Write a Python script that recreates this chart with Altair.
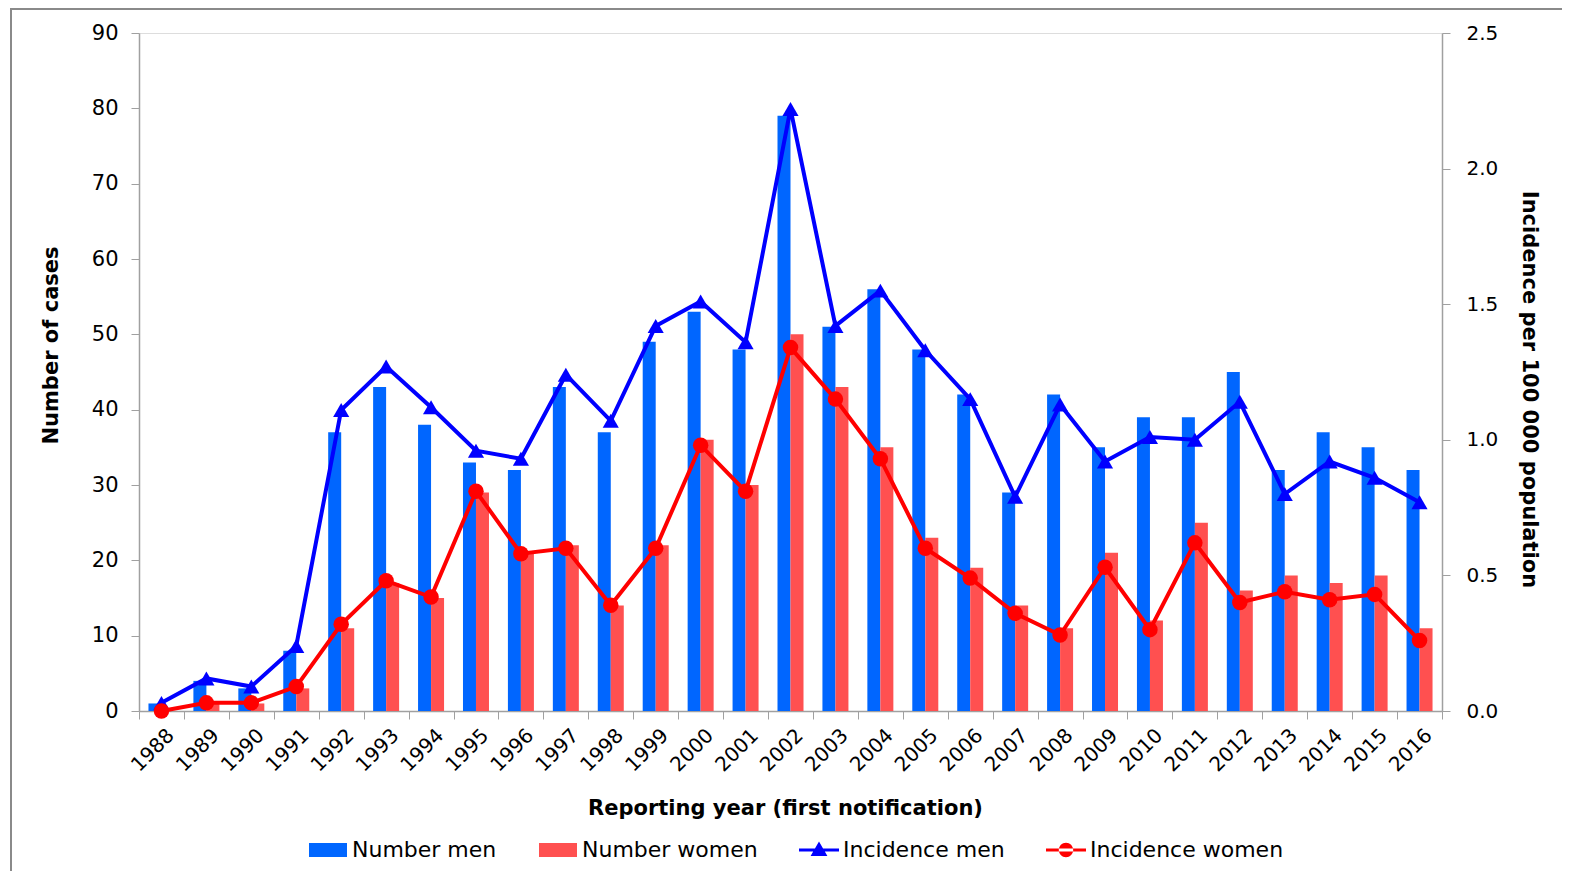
import altair as alt
import pandas as pd

years = [str(y) for y in range(1988, 2017)]
men_n = [1, 4, 3, 8, 37, 43, 38, 33, 32, 43, 37, 49, 53, 48, 79, 51, 56, 48, 42, 29, 42, 35, 39, 39, 45, 32, 37, 35, 32]
women_n = [0, 1, 1, 3, 11, 17, 15, 29, 21, 22, 14, 22, 36, 30, 50, 43, 35, 23, 19, 14, 11, 21, 12, 25, 16, 18, 17, 18, 11]
men_inc = [0.03, 0.12, 0.09, 0.24, 1.11, 1.27, 1.12, 0.96, 0.93, 1.24, 1.07, 1.42, 1.51, 1.36, 2.22, 1.42, 1.55, 1.33,
           1.15, 0.79, 1.13, 0.92, 1.01, 1.00, 1.14, 0.80, 0.92, 0.86, 0.77]
women_inc = [0.0, 0.03, 0.03, 0.09, 0.32, 0.48, 0.42, 0.81, 0.58, 0.60, 0.39, 0.60, 0.98, 0.81, 1.34, 1.15, 0.93, 0.60,
             0.49, 0.36, 0.28, 0.53, 0.30, 0.62, 0.40, 0.44, 0.41, 0.43, 0.26]

series = ["Number men", "Number women", "Incidence men", "Incidence women"]
series_colors = ["#0066FF", "#FF5050", "#0000FF", "#FF0000"]
legend_paths = [
    "M-0.95,-0.35H0.95V0.35H-0.95Z",
    "M-0.95,-0.35H0.95V0.35H-0.95Z",
    "M-1,-0.075H1V0.075H-1Z M0,-0.42L0.42,0.3L-0.42,0.3Z",
    "M-1,-0.075H1V0.075H-1Z M-0.36,0A0.36,0.36 0 1,0 0.36,0A0.36,0.36 0 1,0 -0.36,0Z",
]

bars_df = pd.DataFrame({
    "year": years * 2,
    "sex": ["Number men"] * len(years) + ["Number women"] * len(years),
    "n": men_n + women_n,
})
inc_df = pd.DataFrame({"year": years, "men_inc": men_inc, "women_inc": women_inc})
legend_df = pd.DataFrame({"series": series, "year": [years[0]] * 4, "n": [0] * 4})

FONT = "DejaVu Sans"
GRAY = "#a0a0a0"

x_enc = alt.X(
    "year:N",
    scale=alt.Scale(paddingInner=0, paddingOuter=0),
    sort=years,
    axis=alt.Axis(
        title="Reporting year (first notification)",
        labelAngle=-45, labelFontSize=20, labelColor="#000000", labelFont=FONT,
        tickBand="extent", tickSize=8, tickColor=GRAY, domainColor=GRAY, domainWidth=1.5,
        labelPadding=6, labelOffset=2,
        titleFontSize=21, titleFontWeight="bold", titleColor="#000000", titleFont=FONT,
        titleX=646, titleY=103, titleBaseline="alphabetic", titleAlign="center",
    ),
)

bars = alt.Chart(bars_df).mark_bar().encode(
    x=x_enc,
    xOffset=alt.XOffset("sex:N", scale=alt.Scale(domain=["Number men", "Number women"],
                                                 paddingInner=0, paddingOuter=0.728)),
    y=alt.Y("n:Q", scale=alt.Scale(domain=[0, 90], nice=False),
            axis=alt.Axis(orient="left", values=list(range(0, 91, 10)), grid=False,
                          title="Number of cases", labelFontSize=21, labelColor="#000000",
                          labelFont=FONT, labelPadding=13, tickSize=8, tickColor=GRAY,
                          domainColor=GRAY, domainWidth=1.5,
                          titleFontSize=21, titleFontWeight="bold", titleColor="#000000",
                          titleFont=FONT, titleX=-82, titleY=312, titleBaseline="alphabetic",
                          titleAlign="center", titleAngle=-90)),
    fill=alt.Fill("sex:N", scale=alt.Scale(domain=["Number men", "Number women"],
                                           range=["#0066FF", "#FF5050"]), legend=None),
)

leg_props = dict(orient="none", legendX=169, legendY=797, direction="horizontal", title=None,
                 symbolSize=1600, symbolOpacity=1, symbolStrokeWidth=0, labelFontSize=22,
                 labelFont=FONT, labelColor="#000000", labelOffset=4, columnPadding=41,
                 labelLimit=0)

legend_layer = alt.Chart(legend_df).mark_point(filled=True, opacity=0).encode(
    x=alt.X("year:N", sort=years),
    y=alt.Y("n:Q"),
    color=alt.Color("series:N", scale=alt.Scale(domain=series, range=series_colors),
                    sort=series, legend=alt.Legend(**leg_props)),
    shape=alt.Shape("series:N", scale=alt.Scale(domain=series, range=legend_paths),
                    sort=series, legend=alt.Legend(**leg_props)),
)

frame_top = alt.Chart(legend_df).mark_rule(color="#8a8a8a", strokeWidth=2).encode(
    x=alt.value(-128), x2=alt.value(1440), y=alt.value(-24))
frame_left = alt.Chart(legend_df).mark_rule(color="#8a8a8a", strokeWidth=2).encode(
    x=alt.value(-128), y=alt.value(-25), y2=alt.value(900))

left = alt.layer(bars, legend_layer, frame_top, frame_left)

y_right = alt.Axis(orient="right", values=[0, 0.5, 1.0, 1.5, 2.0, 2.5], format=".1f", grid=False,
                   title="Incidence per 100 000  population", labelFontSize=20, labelColor="#000000",
                   labelFont=FONT, labelPadding=16, tickSize=8, tickColor=GRAY,
                   domainColor=GRAY, domainWidth=1.5,
                   titleFontSize=21, titleFontWeight="bold", titleColor="#000000", titleFont=FONT,
                   titleX=80, titleY=356, titleBaseline="alphabetic", titleAlign="center", titleAngle=90)
y_scale = alt.Scale(domain=[0, 2.5], nice=False)

base = alt.Chart(inc_df)
men_line = base.mark_line(color="#0000FF", strokeWidth=4).encode(
    x=alt.X("year:N", sort=years), y=alt.Y("men_inc:Q", scale=y_scale, axis=y_right))
men_pts = base.mark_point(shape="triangle-up", filled=True, size=260, color="#0000FF", opacity=1).encode(
    x=alt.X("year:N", sort=years), y=alt.Y("men_inc:Q"))
women_line = base.mark_line(color="#FF0000", strokeWidth=4).encode(
    x=alt.X("year:N", sort=years), y=alt.Y("women_inc:Q"))
women_pts = base.mark_point(shape="circle", filled=True, size=240, color="#FF0000", opacity=1).encode(
    x=alt.X("year:N", sort=years), y=alt.Y("women_inc:Q"))

right = alt.layer(men_line, men_pts, women_line, women_pts)

chart = alt.layer(left, right).resolve_scale(y="independent").properties(
    width=1303, height=678,
    autosize=alt.AutoSizeParams(type="none"),
    padding={"left": 131, "top": 25, "right": 120, "bottom": 160},
).configure_view(stroke=None).configure(font=FONT)

chart.save("out.html", embed_options={"renderer": "svg", "actions": False})
